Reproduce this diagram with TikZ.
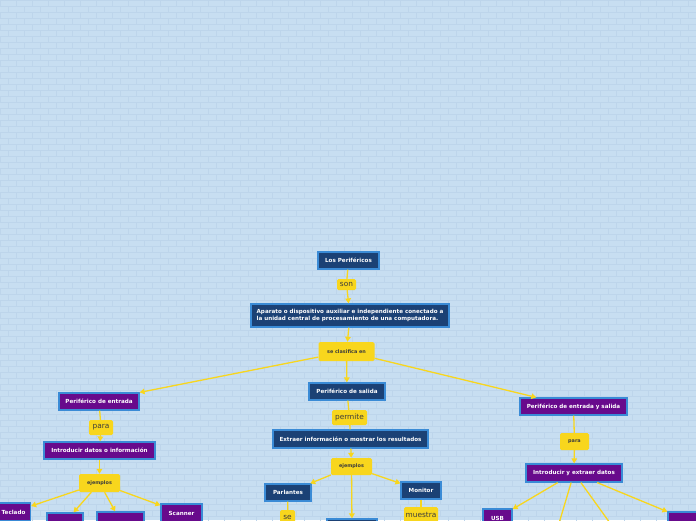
\documentclass[tikz,border=0pt]{standalone}
\usepackage{fontspec}
\setsansfont{DejaVu Sans}
\usetikzlibrary{arrows.meta}
\definecolor{MapBack}{HTML}{C7DEF1}
\definecolor{MapBrick}{HTML}{BDD5EB}
\definecolor{MapNavy}{HTML}{1B4175}
\definecolor{MapPurple}{HTML}{680A8C}
\definecolor{MapEdge}{HTML}{3A8BD6}
\definecolor{MapYellow}{HTML}{F8D61D}
\definecolor{MapText}{HTML}{3C3C3C}

\begin{document}
\begin{tikzpicture}[x=1pt,y=-1pt,
    box/.style={draw=MapEdge, line width=1.2pt, text=white, inner sep=0pt,
      font=\sffamily\bfseries\fontsize{5.6}{6.6}\selectfont},
    navybox/.style={box, fill=MapNavy},
    purplebox/.style={box, fill=MapPurple},
    tag/.style={fill=MapYellow, rounded corners=1.5pt, text=MapText, inner sep=0pt,
      font=\sffamily\fontsize{7.4}{8}\selectfont},
    boldtag/.style={tag, font=\sffamily\bfseries\fontsize{4.9}{5.5}\selectfont},
    link/.style={draw=MapYellow, line width=1.3pt},
    arrowlink/.style={link, -{Triangle[length=5pt,width=5.5pt]}}
  ]
  \useasboundingbox (0,0) rectangle (696,520);
  \clip (0,0) rectangle (696,520);
  % brick wall
  \fill[MapBack] (0,0) rectangle (696,520);
  \foreach \r in {0,...,87} {
    \draw[MapBrick, line width=0.4pt] (0,{6*\r}) -- (696,{6*\r});
    \pgfmathtruncatemacro{\off}{8*mod(\r,2)}
    \foreach \c in {0,...,44}
      \draw[MapBrick, line width=0.4pt] ({16*\c+\off},{6*\r}) -- ++(0,6);
  }

  % top
  \node[navybox, minimum width=61pt, minimum height=17pt] (lper) at (348.5,260.5) {Los Periféricos};
  \node[tag, minimum width=19pt, minimum height=11pt] (son) at (346.5,284.5) {son};
  \node[navybox, minimum width=198pt, minimum height=23pt, align=left] (apar) at (350,315.5)
    {Aparato o dispositivo auxiliar e independiente conectado a\\la unidad central de procesamiento de una computadora.};
  \node[boldtag, minimum width=56pt, minimum height=19pt] (scla) at (346.5,351.5) {se clasifica en};

  % entrada
  \node[purplebox, minimum width=80pt, minimum height=17pt] (pent) at (99,401.5) {Periférico de entrada};
  \node[tag, minimum width=24pt, minimum height=15pt] (para1) at (101,427.5) {para};
  \node[purplebox, minimum width=111pt, minimum height=17pt] (intro1) at (99.5,450.5) {Introducir datos o información};
  \node[boldtag, minimum width=41pt, minimum height=18pt] (ejem1) at (99.5,483) {ejemplos};
  \node[purplebox, minimum width=34pt, minimum height=18pt] (tecl) at (13.5,512) {Teclado};
  \node[purplebox, minimum width=36pt, minimum height=18pt] (mous) at (65,522) {};
  \node[purplebox, minimum width=47pt, minimum height=18pt] (micr) at (120.5,521) {};
  \node[purplebox, minimum width=41pt, minimum height=18pt] (scan) at (181.5,513) {Scanner};

  % salida
  \node[navybox, minimum width=76pt, minimum height=17pt] (psal) at (347,391.5) {Periférico de salida};
  \node[tag, minimum width=35pt, minimum height=15pt] (perm) at (349.5,417.5) {permite};
  \node[navybox, minimum width=155pt, minimum height=18pt] (extr) at (350.5,439) {Extraer información o mostrar los resultados};
  \node[boldtag, minimum width=41pt, minimum height=17pt] (ejem2) at (351.5,466.5) {ejemplos};
  \node[navybox, minimum width=46pt, minimum height=17pt] (parl) at (288,492.5) {Parlantes};
  \node[tag, minimum width=15pt, minimum height=14pt] (se) at (287.5,517) {se};
  \node[navybox, minimum width=40pt, minimum height=17pt] (moni) at (421,490.5) {Monitor};
  \node[tag, minimum width=34pt, minimum height=15pt] (mues) at (421,514.5) {muestra};
  \node[navybox, minimum width=50pt, minimum height=18pt] (impr) at (352,528) {};

  % entrada y salida
  \node[purplebox, minimum width=107pt, minimum height=17pt] (pes) at (573.5,406.5) {Periférico de entrada y salida};
  \node[boldtag, minimum width=29pt, minimum height=17pt] (para2) at (574.5,441.5) {para};
  \node[purplebox, minimum width=96pt, minimum height=18pt] (intro2) at (574,473) {Introducir y extraer datos};
  \node[purplebox, minimum width=29pt, minimum height=18pt] (usb) at (497.5,518) {USB};
  \node[purplebox, minimum width=44pt, minimum height=18pt] (modm) at (690,521) {};
  \coordinate (down1) at (557,530);
  \coordinate (down2) at (615,530);

  % connectors
  \draw[link] (lper) -- (son);
  \draw[arrowlink] (son) -- (apar);
  \draw[arrowlink] (apar) -- (scla);
  \draw[arrowlink] (scla) -- (pent.north east);
  \draw[arrowlink] (scla) -- (psal);
  \draw[arrowlink] (scla) -- ([xshift=17pt]pes.north west);

  \draw[link] (pent) -- (para1);
  \draw[arrowlink] (para1) -- (intro1);
  \draw[arrowlink] (intro1) -- (ejem1);
  \foreach \kid in {tecl,mous,micr,scan}
    \draw[arrowlink] (ejem1) -- (\kid);

  \draw[link] (psal) -- (perm);
  \draw[link] (perm) -- (extr);
  \draw[arrowlink] (extr) -- (ejem2);
  \foreach \kid in {parl,impr,moni}
    \draw[arrowlink] (ejem2) -- (\kid);
  \draw[link] (parl) -- (se);
  \draw[link] (moni) -- (mues);

  \draw[link] (pes) -- (para2);
  \draw[arrowlink] (para2) -- (intro2);
  \draw[arrowlink] (intro2) -- (usb);
  \draw[link] (intro2) -- (down1);
  \draw[link] (intro2) -- (down2);
  \draw[arrowlink] (intro2) -- (modm);
\end{tikzpicture}
\end{document}
